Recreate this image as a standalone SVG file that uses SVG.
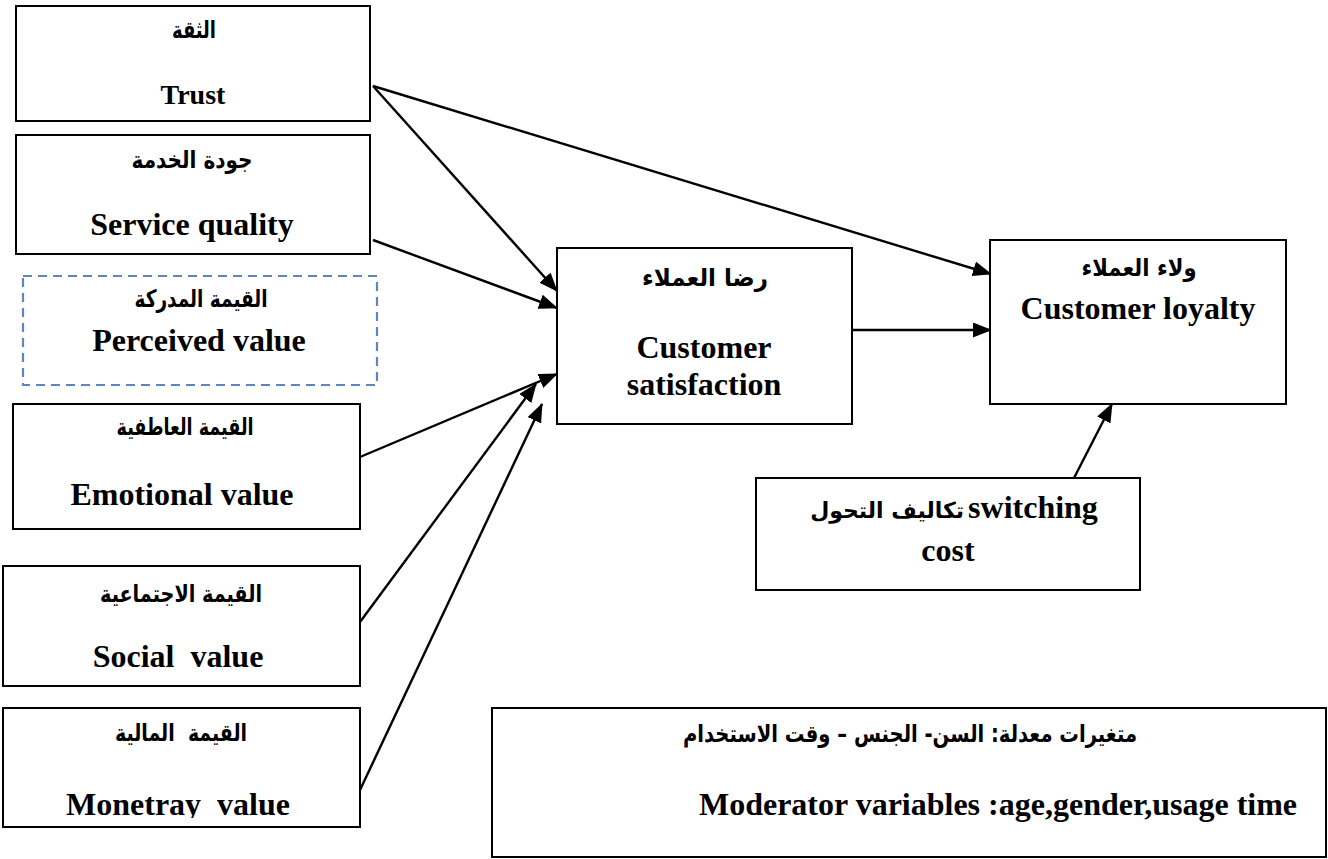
<svg xmlns="http://www.w3.org/2000/svg" width="1328" height="859" viewBox="0 0 1328 859">
  <style>
    .box { fill: #ffffff; stroke: #000000; stroke-width: 2; }
    .dash { fill: #ffffff; stroke: #5b86c2; stroke-width: 2.2; stroke-dasharray: 9 6; }
    .en { font-family: "Liberation Serif", "Times New Roman", serif; font-weight: bold; font-size: 32px; fill: #000; text-anchor: middle; }
    .ar { font-family: "DejaVu Sans", "Noto Sans", sans-serif; font-weight: bold; font-size: 24px; fill: #000; text-anchor: middle; direction: rtl; }
    .mixed { font-weight: bold; fill: #000; text-anchor: middle; direction: rtl; }
    .mixed .l { font-family: "Liberation Serif", "Times New Roman", serif; font-size: 32px; }
    .mixed .a { font-family: "DejaVu Sans", "Noto Sans", sans-serif; font-size: 22px; }
    .edge { stroke: #000000; stroke-width: 2.4; fill: none; marker-end: url(#head); }
  </style>
  <defs>
    <marker id="head" markerUnits="userSpaceOnUse" markerWidth="19" markerHeight="15" refX="18" refY="7.5" orient="auto">
      <path d="M0,0 L19,7.5 L0,15 z" fill="#000000"/>
    </marker>
    <clipPath id="monClip">
      <rect x="0" y="700" width="400" height="118"/>
    </clipPath>
  </defs>

  <rect width="1328" height="859" fill="#ffffff"/>

  <!-- connectors -->
  <g id="connectors">
    <line class="edge" x1="373" y1="86" x2="557" y2="291"/>
    <line class="edge" x1="373" y1="86" x2="991" y2="274"/>
    <line class="edge" x1="373" y1="240" x2="557" y2="308"/>
    <line class="edge" x1="852" y1="330" x2="991" y2="330"/>
    <line class="edge" x1="360" y1="457" x2="557" y2="374"/>
    <line class="edge" x1="360" y1="622" x2="536" y2="384"/>
    <line class="edge" x1="360" y1="790" x2="542" y2="404"/>
    <line class="edge" x1="1074" y1="478" x2="1112" y2="404"/>
  </g>

  <!-- independent variables -->
  <g id="trust">
    <rect class="box" x="16" y="6" width="354" height="115"/>
    <text class="ar" x="194" y="38" textLength="44" lengthAdjust="spacingAndGlyphs">الثقة</text>
    <text class="en" x="193" y="104" style="font-size:28px">Trust</text>
  </g>

  <g id="service-quality">
    <rect class="box" x="16" y="135" width="354" height="119"/>
    <text class="ar" x="192" y="168" textLength="121" lengthAdjust="spacingAndGlyphs">جودة الخدمة</text>
    <text class="en" x="192" y="235">Service quality</text>
  </g>

  <g id="perceived-value">
    <rect class="dash" x="23" y="276" width="354" height="109"/>
    <text class="ar" x="201" y="307" textLength="133" lengthAdjust="spacingAndGlyphs">القيمة المدركة</text>
    <text class="en" x="199" y="351">Perceived value</text>
  </g>

  <g id="emotional-value">
    <rect class="box" x="13" y="404" width="347" height="125"/>
    <text class="ar" x="185" y="435" textLength="137" lengthAdjust="spacingAndGlyphs">القيمة العاطفية</text>
    <text class="en" x="182" y="505">Emotional value</text>
  </g>

  <g id="social-value">
    <rect class="box" x="3" y="566" width="357" height="120"/>
    <text class="ar" x="181" y="602" textLength="162" lengthAdjust="spacingAndGlyphs">القيمة الاجتماعية</text>
    <text class="en" x="178" y="667" xml:space="preserve">Social  value</text>
  </g>

  <g id="monetary-value">
    <rect class="box" x="3" y="708" width="357" height="119"/>
    <text class="ar" x="181" y="741" textLength="132" lengthAdjust="spacingAndGlyphs" xml:space="preserve">القيمة  المالية</text>
    <text class="en" x="178" y="815" clip-path="url(#monClip)" xml:space="preserve">Monetray  value</text>
  </g>

  <!-- mediator and outcome -->
  <g id="customer-satisfaction">
    <rect class="box" x="557" y="248" width="295" height="176"/>
    <text class="ar" x="705" y="286" textLength="126" lengthAdjust="spacingAndGlyphs">رضا العملاء</text>
    <text class="en" x="704" y="358">Customer</text>
    <text class="en" x="704" y="395">satisfaction</text>
  </g>

  <g id="customer-loyalty">
    <rect class="box" x="990" y="240" width="296" height="164"/>
    <text class="ar" x="1139" y="276" textLength="115" lengthAdjust="spacingAndGlyphs">ولاء العملاء</text>
    <text class="en" x="1138" y="319">Customer loyalty</text>
  </g>

  <g id="switching-cost">
    <rect class="box" x="756" y="478" width="384" height="112"/>
    <text class="mixed" x="954" y="518"><tspan class="l">switching</tspan> <tspan class="a">تكاليف التحول</tspan></text>
    <text class="en" x="948" y="561">cost</text>
  </g>

  <g id="moderators">
    <rect class="box" x="492" y="708" width="834" height="149"/>
    <text class="ar" x="910" y="742" textLength="454" lengthAdjust="spacingAndGlyphs">متغيرات معدلة: السن- الجنس – وقت الاستخدام</text>
    <text class="en" x="998" y="815">Moderator variables :age,gender,usage time</text>
  </g>
</svg>
